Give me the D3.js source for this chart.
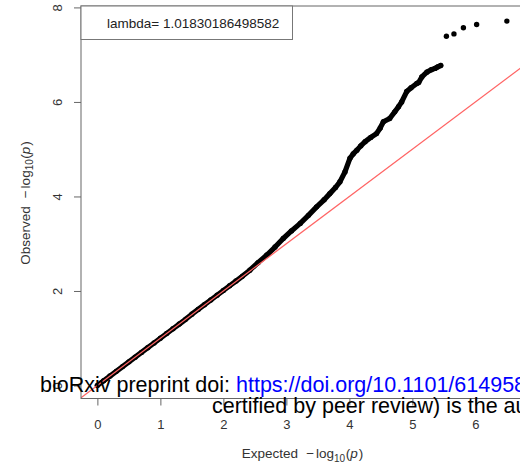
<!DOCTYPE html>
<html>
<head>
<meta charset="utf-8">
<script src="https://cdn.jsdelivr.net/npm/d3@7"></script>
<style>
  html, body { margin: 0; padding: 0; background: #fff; }
  svg { display: block; font-family: "Liberation Sans", Arial, Helvetica, sans-serif; }
</style>
</head>
<body>
<svg id="qq" width="520" height="471"></svg>
<script>
// QQ plot of association p-values: expected vs observed -log10(p)
const denseExpected = [0.00, 0.10, 0.20, 0.30, 0.40, 0.50, 0.60, 0.70, 0.80, 0.90,
  1.00, 1.10, 1.20, 1.30, 1.40, 1.50, 1.60, 1.70, 1.80, 1.90,
  2.00, 2.10, 2.20, 2.30, 2.42, 2.55, 2.69, 2.82, 2.95, 3.08,
  3.22, 3.35, 3.48, 3.60, 3.69, 3.78, 3.85, 3.93, 4.01, 4.06,
  4.12, 4.18, 4.25, 4.34, 4.43, 4.49, 4.54, 4.64, 4.72, 4.78,
  4.83, 4.91, 4.98, 5.07, 5.10, 5.15, 5.23, 5.30, 5.36, 5.40, 5.45];
const denseObserved = [0.00, 0.10, 0.20, 0.30, 0.40, 0.50, 0.60, 0.70, 0.80, 0.90,
  1.00, 1.10, 1.20, 1.30, 1.40, 1.51, 1.61, 1.71, 1.81, 1.91,
  2.01, 2.11, 2.21, 2.31, 2.44, 2.60, 2.76, 2.93, 3.11, 3.27,
  3.43, 3.60, 3.78, 3.93, 4.06, 4.19, 4.31, 4.52, 4.81, 4.90,
  4.98, 5.07, 5.16, 5.25, 5.33, 5.45, 5.58, 5.65, 5.79, 5.90,
  6.00, 6.22, 6.30, 6.39, 6.41, 6.53, 6.63, 6.68, 6.71, 6.74, 6.77];
const tailExpected = [5.54, 5.66, 5.81, 6.02, 6.50];
const tailObserved = [7.39, 7.44, 7.57, 7.64, 7.71];

const xTicks = [0, 1, 2, 3, 4, 5, 6];
const yTicks = [0, 2, 4, 6, 8];
const lambdaText = "lambda= 1.01830186498582";

const svg = d3.select("#qq");

const x = d3.scaleLinear().domain([-0.26, 6.756]).range([81, 523]);
const y = d3.scaleLinear().domain([-0.275, 8.03]).range([398.5, 6]);

const dense = denseExpected.map((e, i) => ({ e, o: denseObserved[i] }));
const tail = tailExpected.map((e, i) => ({ e, o: tailObserved[i] }));

svg.append("defs").append("clipPath").attr("id", "plotclip")
  .append("rect")
  .attr("x", x.range()[0]).attr("y", y.range()[1])
  .attr("width", x.range()[1] - x.range()[0])
  .attr("height", y.range()[0] - y.range()[1]);

const plot = svg.append("g").attr("clip-path", "url(#plotclip)");

// observed points: a continuous band where they overlap, single dots in the tail
plot.append("path")
  .datum(dense)
  .attr("d", d3.line().x(d => x(d.e)).y(d => y(d.o)))
  .attr("fill", "none")
  .attr("stroke", "#000")
  .attr("stroke-width", 5.2)
  .attr("stroke-linejoin", "round")
  .attr("stroke-linecap", "round");

plot.selectAll("circle.pt")
  .data(dense.concat(tail))
  .join("circle")
  .attr("class", "pt")
  .attr("cx", d => x(d.e))
  .attr("cy", d => y(d.o))
  .attr("r", 2.7)
  .attr("fill", "#000");

// y = x reference line
const [d0, d1] = x.domain();
plot.append("line")
  .attr("x1", x(d0)).attr("y1", y(d0))
  .attr("x2", x(d1)).attr("y2", y(d1))
  .attr("stroke", "#ff6464")
  .attr("stroke-width", 1.3);

// axes
const xAxis = svg.append("g")
  .attr("transform", `translate(0,${y.range()[0]})`)
  .call(d3.axisBottom(x).tickValues(xTicks).tickSize(7).tickFormat(d3.format("d")));
xAxis.select(".domain").remove();
xAxis.selectAll(".tick line").attr("stroke", "#666");
xAxis.selectAll(".tick text")
  .attr("y", 30).attr("dy", null)
  .attr("fill", "#333")
  .style("font-size", "13px")
  .style("font-family", "Liberation Sans, Arial, sans-serif");

const yAxis = svg.append("g")
  .attr("transform", `translate(${x.range()[0]},0)`)
  .call(d3.axisLeft(y).tickValues(yTicks).tickSize(7).tickFormat(d3.format("d")));
yAxis.select(".domain").remove();
yAxis.selectAll(".tick line").attr("stroke", "#666");
yAxis.selectAll(".tick text")
  .attr("x", null).attr("dy", null)
  .attr("text-anchor", "middle")
  .attr("transform", "translate(-19.5,0) rotate(-90)")
  .attr("fill", "#333")
  .style("font-size", "13px")
  .style("font-family", "Liberation Sans, Arial, sans-serif");

// plot frame
svg.append("rect")
  .attr("x", x.range()[0]).attr("y", y.range()[1])
  .attr("width", x.range()[1] - x.range()[0])
  .attr("height", y.range()[0] - y.range()[1])
  .attr("fill", "none")
  .attr("stroke", "#666")
  .attr("stroke-width", 1);

// legend box with genomic inflation factor
svg.append("rect")
  .attr("x", x.range()[0]).attr("y", y.range()[1])
  .attr("width", 211.5).attr("height", 33.5)
  .attr("fill", "#fff")
  .attr("stroke", "#777")
  .attr("stroke-width", 1);
svg.append("text")
  .attr("x", 107).attr("y", 28)
  .attr("fill", "#222")
  .style("font-size", "13.5px")
  .text(lambdaText);

// axis titles: word ~ -log[10](p)
function mathLabel(sel, word) {
  sel.append("tspan").text(word);
  sel.append("tspan").attr("dx", 8).text("\u2212");
  sel.append("tspan").attr("dx", 2).text("log");
  sel.append("tspan").attr("dy", 3.5).style("font-size", "10px").text("10");
  sel.append("tspan").attr("dy", -3.5).attr("dx", 0.5).text("(");
  sel.append("tspan").style("font-style", "italic").text("p");
  sel.append("tspan").attr("dx", 1).text(")");
}
const xTitle = svg.append("text")
  .attr("x", 302.5).attr("y", 458)
  .attr("text-anchor", "middle")
  .attr("fill", "#333")
  .style("font-size", "13.5px");
mathLabel(xTitle, "Expected");

const yTitle = svg.append("text")
  .attr("transform", "translate(29.5,203) rotate(-90)")
  .attr("text-anchor", "middle")
  .attr("fill", "#333")
  .style("font-size", "13.5px");
mathLabel(yTitle, "Observed");

// preprint notice overlaid along the bottom
const note1 = svg.append("text")
  .attr("x", 40).attr("y", 392)
  .style("font-size", "21.5px");
note1.append("tspan").attr("fill", "#000").text("bioRxiv preprint doi: ");
note1.append("tspan").attr("fill", "#0000ff").text("https://doi.org/10.1101/614958");

svg.append("text")
  .attr("x", 212).attr("y", 413)
  .attr("fill", "#000")
  .style("font-size", "21.5px")
  .text("certified by peer review) is the author/funder, who has granted bioRxiv a license to display the preprint in perpetuity.");
</script>
</body>
</html>
